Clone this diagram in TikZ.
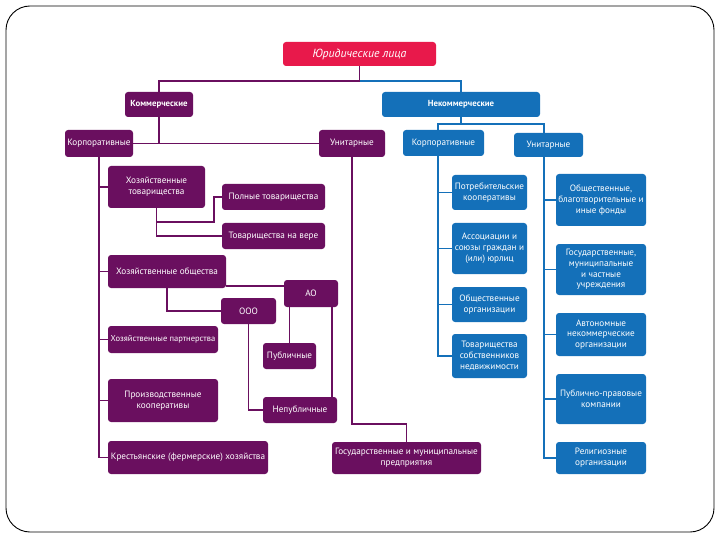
\documentclass[tikz,border=0pt]{standalone}
\usepackage{fontspec}
\setmainfont{PT Sans}
\definecolor{jred}{HTML}{E8194B}
\definecolor{jpur}{HTML}{6A0F5F}
\definecolor{jblu}{HTML}{1470B9}
\begin{document}
\begin{tikzpicture}[x=1pt,y=-1pt,
  base/.style={rectangle,rounded corners=3pt,text=white,align=center,inner sep=1pt,
    font=\fontsize{9.2}{10.8}\selectfont},
  pbox/.style={base,fill=jpur},
  bbox/.style={base,fill=jblu},
  rbox/.style={base,fill=jred,font=\fontsize{11.8}{13}\selectfont\itshape},
  pline/.style={draw=jpur,line width=1.5pt},
  bline/.style={draw=jblu,line width=1.5pt},
  sz/.style 2 args={minimum width=#1pt,minimum height=#2pt}]
\useasboundingbox (0,0) rectangle (720,540);
\draw[black,line width=0.9pt,rounded corners=24pt] (6,6) rectangle (714,532);

% nodes
\node[rbox,sz={153}{24}] (jur) at (359.5,54) {Юридические лица};
\node[pbox,sz={68}{25},font=\fontsize{8.8}{10}\selectfont\bfseries] (kom) at (159,104.5) {Коммерческие};
\node[bbox,sz={158}{25},font=\fontsize{8.8}{10}\selectfont\bfseries] (nekom) at (461,104.5) {Некоммерческие};
\node[pbox,sz={68}{27}] (pkorp) at (99,143.5) {Корпоративные};
\node[pbox,sz={66}{27}] (puni) at (352,143.5) {Унитарные};
\node[bbox,sz={81}{26}] (bkorp) at (443.5,143) {Корпоративные};
\node[bbox,sz={69}{24}] (buni) at (548.5,145) {Унитарные};

\node[pbox,sz={97}{42}] (ht) at (156.5,187) {Хозяйственные\\товарищества};
\node[pbox,sz={103}{26}] (pt) at (273.5,197) {Полные товарищества};
\node[pbox,sz={103}{26}] (tv) at (273.5,236) {Товарищества на вере};
\node[pbox,sz={118}{33}] (ho) at (167,271.5) {Хозяйственные общества};
\node[pbox,sz={54}{27}] (ao) at (311,293.5) {АО};
\node[pbox,sz={55}{26}] (ooo) at (248.5,311) {ООО};
\node[pbox,sz={53}{26}] (pub) at (289.5,356) {Публичные};
\node[pbox,sz={74}{26}] (nepub) at (300,410) {Непубличные};
\node[pbox,sz={110}{27},font=\fontsize{8.5}{10}\selectfont] (hp) at (163,339.5) {Хозяйственные партнерства};
\node[pbox,sz={110}{43}] (prk) at (163,400.5) {Производственные\\кооперативы};
\node[pbox,sz={160}{33}] (kfh) at (188,457.5) {Крестьянские (фермерские) хозяйства};
\node[pbox,sz={149}{32}] (gmp) at (406.5,458) {Государственные и муниципальные\\предприятия};

\node[bbox,sz={75}{35}] (potr) at (489.5,192.5) {Потребительские\\кооперативы};
\node[bbox,sz={75}{51}] (assoc) at (489.5,248.5) {Ассоциации и\\союзы граждан и\\(или) юрлиц};
\node[bbox,sz={75}{35}] (obsh) at (489.5,304.5) {Общественные\\организации};
\node[bbox,sz={75}{44}] (tsn) at (489.5,356) {Товарищества\\собственников\\недвижимости};
\node[bbox,sz={90}{52}] (fond) at (601,200) {Общественные,\\благотворительные и\\иные фонды};
\node[bbox,sz={90}{51}] (gosu) at (601,269.5) {Государственные,\\муниципальные\\и частные\\учреждения};
\node[bbox,sz={90}{43}] (ano) at (601,334.5) {Автономные\\некоммерческие\\организации};
\node[bbox,sz={90}{50}] (ppk) at (601,399) {Публично-правовые\\компании};
\node[bbox,sz={90}{32}] (rel) at (601,458) {Религиозные\\организации};

% coordinates
\coordinate (top) at (0,81);
\coordinate (btop) at (0,124);
\coordinate (bkx) at (438,0);
\coordinate (bux) at (544,0);
\coordinate (j1) at (214,222);
\coordinate (h1) at (0,286);
\coordinate (u1) at (0,424);

% top level
\draw[pline] (jur.south) -- (jur.south |- top) -| (kom.north);
\draw[bline] (jur.south |- top) -| (nekom.north);

% commercial
\draw[pline] (kom.south) -- (kom.south |- pkorp.east);
\draw[pline] (pkorp.east) -- (puni.west);
\draw[pline] (pkorp.south) |- (kfh.west);
\draw[pline] (pkorp.south |- ht.west) -- (ht.west);
\draw[pline] (pkorp.south |- ho.west) -- (ho.west);
\draw[pline] (pkorp.south |- hp.west) -- (hp.west);
\draw[pline] (pkorp.south |- prk.west) -- (prk.west);
\draw[pline] (ht.south) |- (tv.west);
\draw[pline] (ht.south |- j1) -- (j1) |- (pt.west);
\draw[pline] (ho.east |- h1) -- (ao.west |- h1);
\draw[pline] (ho.south) |- (ooo.west);
\draw[pline] (pub.north |- ao.south) -- (pub.north);
\draw[pline] ([xshift=-6pt]ao.south east) -- ([xshift=-6pt]ao.south east |- nepub.north);
\draw[pline] (ooo.south) |- (nepub.west);
\draw[pline] (puni.south) -- (puni.south |- u1) -| (gmp.north);

% non-commercial
\draw[bline] (nekom.south) -- (nekom.south |- btop);
\draw[bline] (bkorp.north -| bkx) -- (bkx |- btop) -- (bux |- btop) -- (buni.north -| bux);
\draw[bline] (bkorp.south -| bkx) |- (tsn.west);
\draw[bline] (bkx |- potr.west) -- (potr.west);
\draw[bline] (bkx |- assoc.west) -- (assoc.west);
\draw[bline] (bkx |- obsh.west) -- (obsh.west);
\draw[bline] (buni.south -| bux) |- (rel.west);
\draw[bline] (bux |- fond.west) -- (fond.west);
\draw[bline] (bux |- gosu.west) -- (gosu.west);
\draw[bline] (bux |- ano.west) -- (ano.west);
\draw[bline] (bux |- ppk.west) -- (ppk.west);
\end{tikzpicture}
\end{document}
